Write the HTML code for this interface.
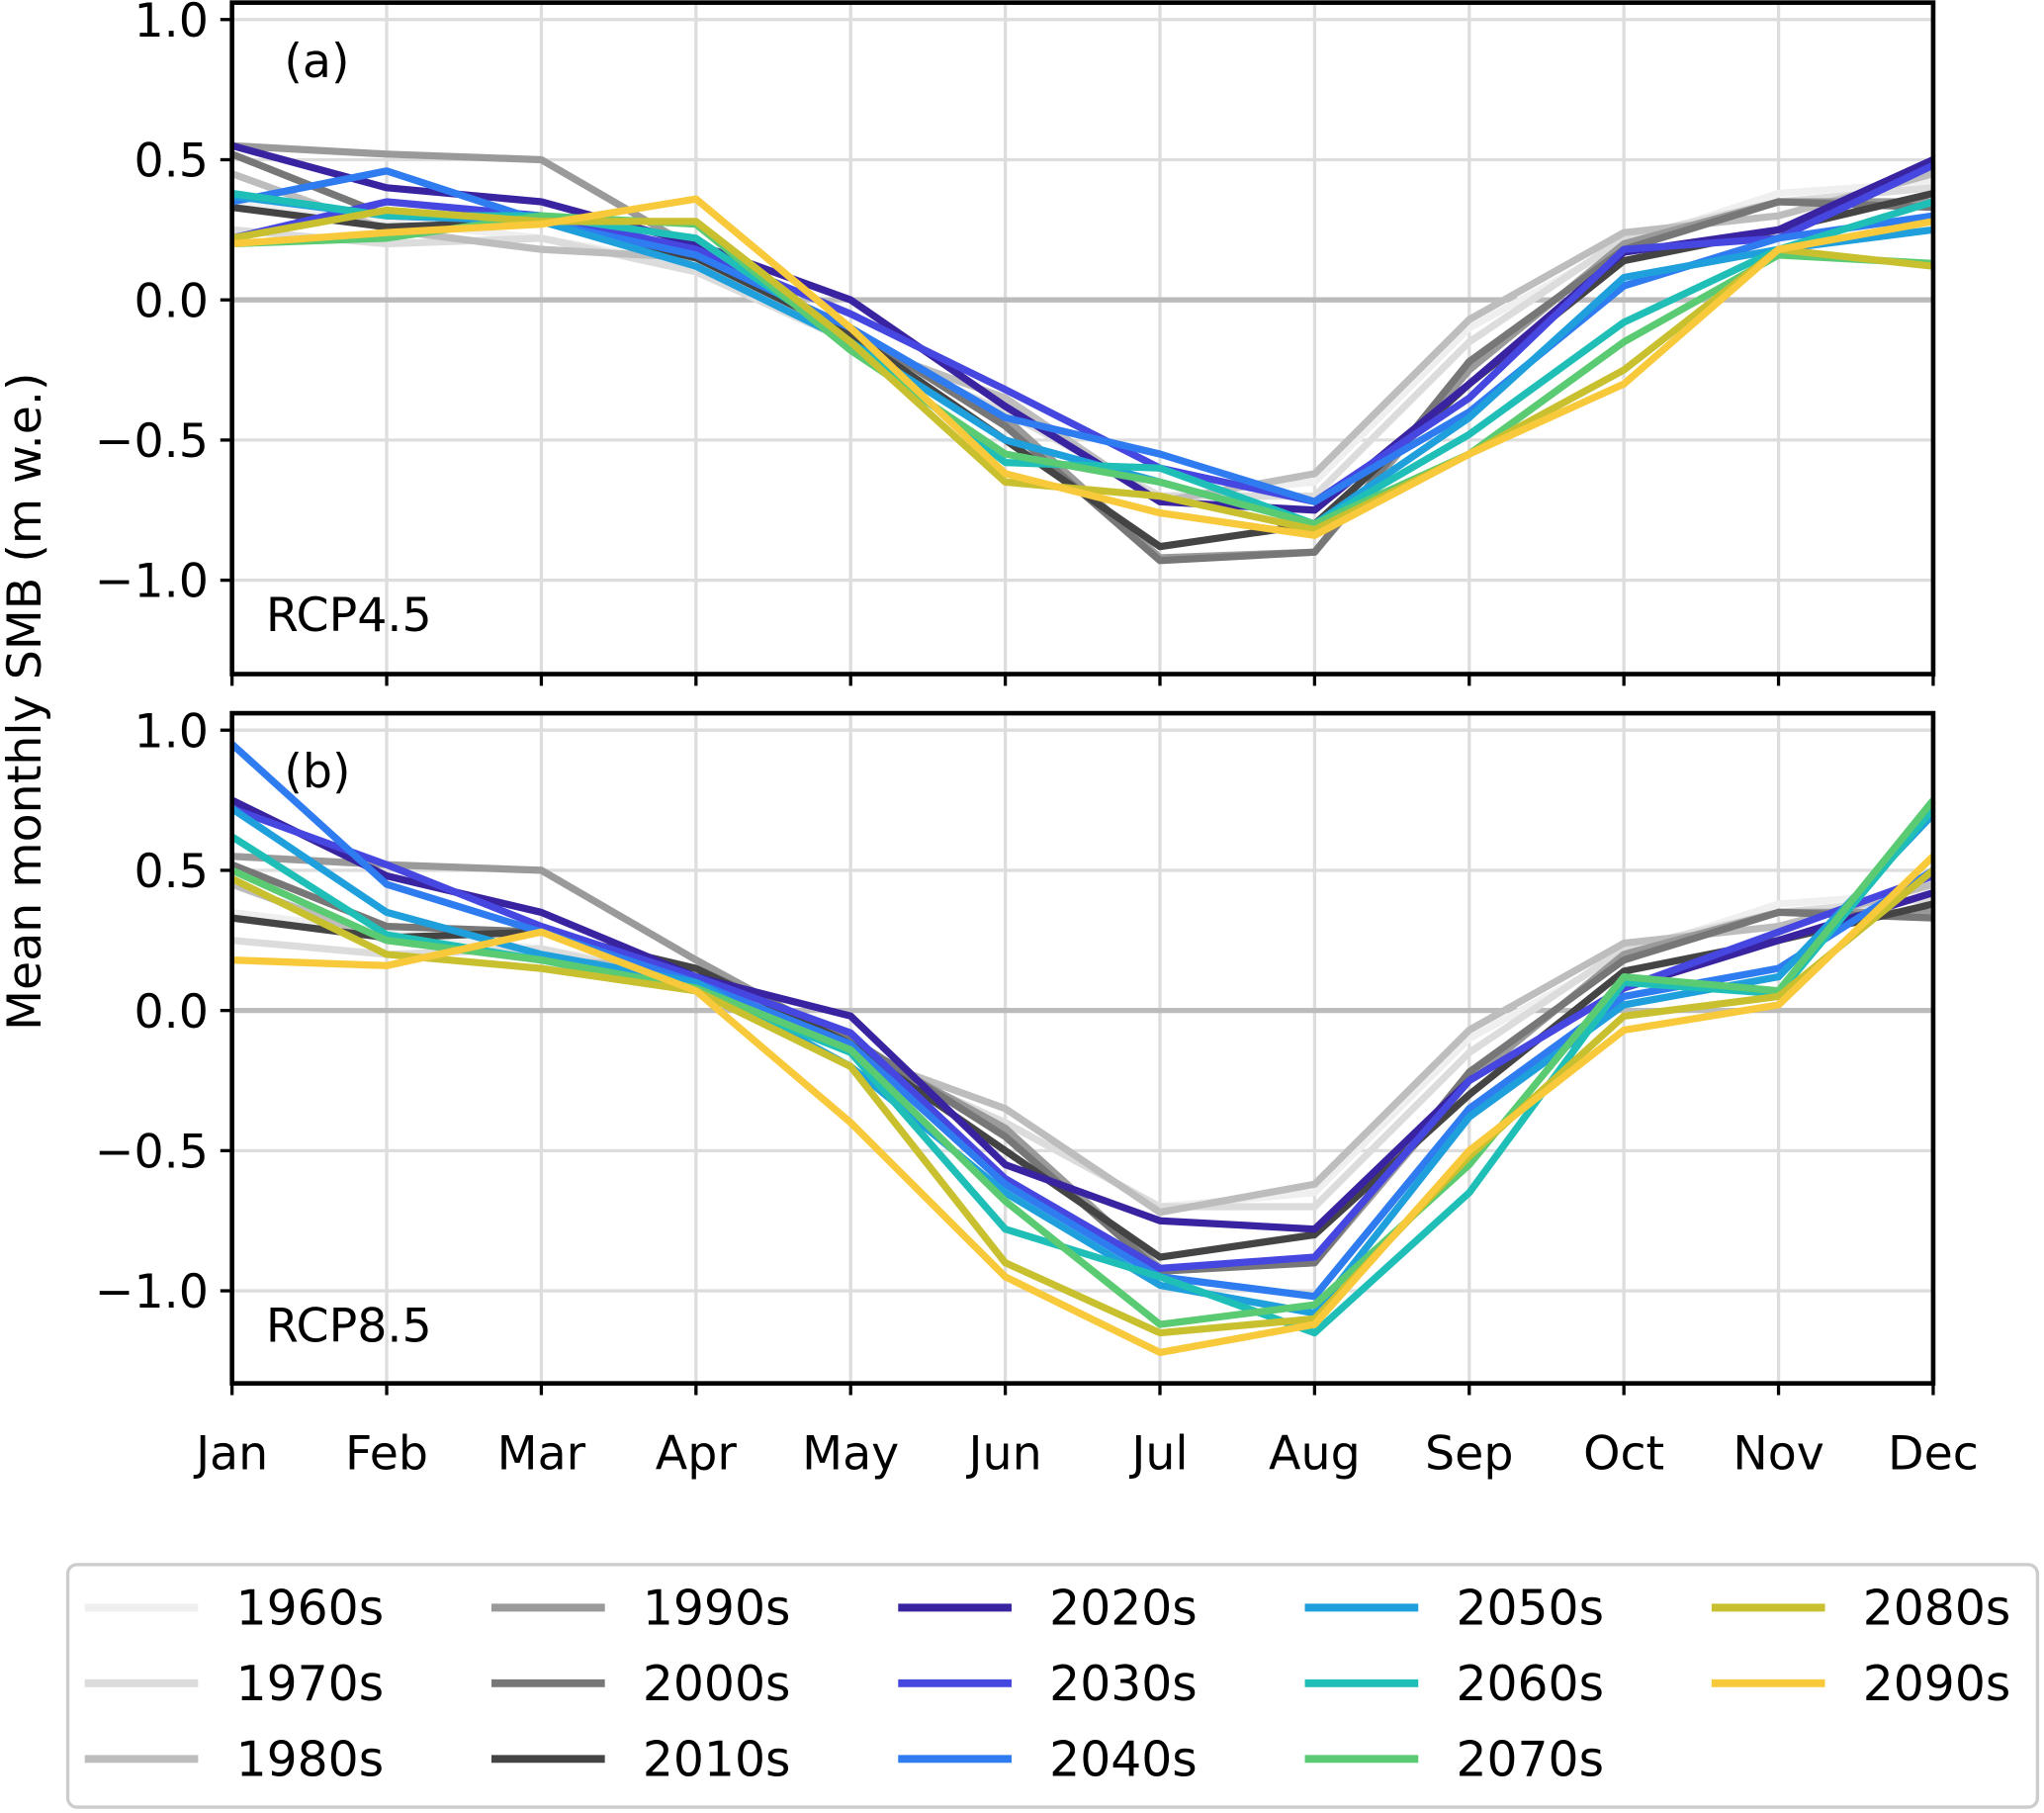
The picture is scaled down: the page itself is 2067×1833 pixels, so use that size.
<!DOCTYPE html>
<html><head><meta charset="utf-8"><style>
html,body{margin:0;padding:0;background:#fff;}
svg{display:block;font-family:"DejaVu Sans","Liberation Sans",sans-serif;}
</style></head><body>
<svg id="chart" width="2067" height="1833" viewBox="0 0 1568 1390.5" xmlns="http://www.w3.org/2000/svg"></svg>
<script>
const months = ["Jan","Feb","Mar","Apr","May","Jun","Jul","Aug","Sep","Oct","Nov","Dec"];
const decades = ["1960s","1970s","1980s","1990s","2000s","2010s","2020s","2030s","2040s","2050s","2060s","2070s","2080s","2090s"];
const yTicks = [1.0,0.5,0.0,-0.5,-1.0];
const yTickLabels = ["1.0","0.5","0.0","\u22120.5","\u22121.0"];
const colors = ["#efefef","#dcdcdc","#bdbdbd","#9a9a9a","#777777","#444444","#3a23a0","#4646e0","#2f7bf0","#1fa0dc","#1fbfb8","#5acb72","#c9c030","#f8c93a"];
const h1960 = [0.35,0.28,0.22,0.12,-0.15,-0.4,-0.7,-0.65,-0.1,0.2,0.38,0.42];
const h1970 = [0.25,0.2,0.22,0.1,-0.15,-0.4,-0.7,-0.7,-0.15,0.22,0.35,0.4];
const h1980 = [0.45,0.25,0.18,0.15,-0.15,-0.35,-0.72,-0.62,-0.07,0.24,0.3,0.45];
const h1990 = [0.55,0.52,0.5,0.18,-0.12,-0.42,-0.92,-0.9,-0.25,0.2,0.35,0.35];
const h2000 = [0.52,0.3,0.28,0.15,-0.1,-0.45,-0.93,-0.9,-0.22,0.18,0.35,0.33];
const h2010 = [0.33,0.26,0.28,0.15,-0.12,-0.5,-0.88,-0.8,-0.3,0.14,0.25,0.38];
const a2020 = [0.55,0.4,0.35,0.2,0.0,-0.38,-0.72,-0.75,-0.3,0.17,0.25,0.5];
const a2030 = [0.22,0.35,0.3,0.18,-0.05,-0.32,-0.6,-0.72,-0.35,0.18,0.22,0.48];
const a2040 = [0.35,0.46,0.28,0.16,-0.1,-0.42,-0.55,-0.72,-0.4,0.05,0.22,0.3];
const a2050 = [0.37,0.3,0.28,0.12,-0.15,-0.5,-0.65,-0.8,-0.42,0.08,0.18,0.25];
const a2060 = [0.38,0.3,0.3,0.22,-0.15,-0.58,-0.6,-0.8,-0.48,-0.08,0.18,0.35];
const a2070 = [0.2,0.22,0.3,0.27,-0.18,-0.55,-0.65,-0.8,-0.55,-0.15,0.16,0.13];
const a2080 = [0.22,0.32,0.28,0.28,-0.15,-0.65,-0.7,-0.82,-0.55,-0.25,0.18,0.12];
const a2090 = [0.2,0.24,0.27,0.36,-0.1,-0.62,-0.76,-0.84,-0.55,-0.3,0.18,0.28];
const b2020 = [0.75,0.48,0.35,0.12,-0.02,-0.55,-0.75,-0.78,-0.25,0.08,0.25,0.42];
const b2030 = [0.72,0.52,0.3,0.12,-0.08,-0.6,-0.92,-0.88,-0.25,0.08,0.28,0.48];
const b2040 = [0.95,0.45,0.28,0.1,-0.12,-0.62,-0.95,-1.02,-0.35,0.05,0.15,0.5];
const b2050 = [0.72,0.35,0.2,0.1,-0.2,-0.65,-0.98,-1.08,-0.38,0.02,0.12,0.7];
const b2060 = [0.62,0.27,0.18,0.07,-0.15,-0.78,-0.95,-1.15,-0.65,0.1,0.06,0.72];
const b2070 = [0.5,0.25,0.18,0.08,-0.14,-0.68,-1.12,-1.05,-0.55,0.12,0.07,0.75];
const b2080 = [0.47,0.2,0.15,0.07,-0.2,-0.9,-1.15,-1.1,-0.52,-0.02,0.05,0.5];
const b2090 = [0.18,0.16,0.28,0.07,-0.4,-0.95,-1.22,-1.12,-0.5,-0.07,0.02,0.55];
const seriesA = [h1960,h1970,h1980,h1990,h2000,h2010,a2020,a2030,a2040,a2050,a2060,a2070,a2080,a2090];
const seriesB = [h1960,h1970,h1980,h1990,h2000,h2010,b2020,b2030,b2040,b2050,b2060,b2070,b2080,b2090];

const NS="http://www.w3.org/2000/svg";
const svg=document.getElementById('chart');
function mk(tag,attrs,parent){const e=document.createElementNS(NS,tag);for(const k in attrs)e.setAttribute(k,attrs[k]);(parent||svg).appendChild(e);return e;}
const X0=178,X1=1483;
const xs=i=>X0+i*(X1-X0)/11;

function panel(top,bottom,zeroY,label,tag,series,name){
  const g=mk('g',{});
  
  
  const ys=v=>zeroY-v*215;
  months.forEach((m,i)=>{const l=mk('line',{x1:xs(i),x2:xs(i),y1:top,y2:bottom,stroke:'#dddddd','stroke-width':2.5},g);
    });
  yTicks.forEach((t,i)=>{
    const l=mk('line',{x1:X0,x2:X1,y1:ys(t),y2:ys(t),stroke:t===0?'#bbbbbb':'#dddddd','stroke-width':t===0?4:2.5},g);
    
    mk('line',{x1:X0-9,x2:X0,y1:ys(t),y2:ys(t),stroke:'#000','stroke-width':2.5},g);
    const tx=mk('text',{x:X0-18,y:ys(t)+13,'text-anchor':'end','font-size':36},g);tx.textContent=yTickLabels[i];
    
  });
  series.forEach((s,k)=>{
    const p=mk('polyline',{points:s.map((v,i)=>xs(i)+','+ys(v)).join(' '),fill:'none',stroke:colors[k],'stroke-width':5.5,'stroke-linejoin':'round'},g);
    
    
  });
  mk('rect',{x:X0,y:top,width:X1-X0,height:bottom-top,fill:'none',stroke:'#000','stroke-width':3.5},g);
  months.forEach((m,i)=>mk('line',{x1:xs(i),x2:xs(i),y1:bottom,y2:bottom+9,stroke:'#000','stroke-width':2.5},g));
  const t1=mk('text',{x:218,y:59+(top-2),'font-size':36},g);t1.textContent=tag;
  
  const t2=mk('text',{x:204,y:ys(-1)+39,'font-size':36},g);t2.textContent=label;
  
}
panel(2,517,230,'RCP4.5','(a)',seriesA,'panel-rcp45');
panel(547,1061,775,'RCP8.5','(b)',seriesB,'panel-rcp85');

months.forEach((m,i)=>{const t=mk('text',{x:xs(i),y:1127,'text-anchor':'middle','font-size':36});t.textContent=m;
  });
const yl=mk('text',{x:0,y:0,transform:'translate(31,538) rotate(-90)','text-anchor':'middle','font-size':36});
yl.textContent='Mean monthly SMB (m w.e.)';


const lg=mk('g',{});

mk('rect',{x:52,y:1200,width:1511,height:186,rx:7,fill:'#fff',stroke:'#cccccc','stroke-width':2.5},lg);
decades.forEach((d,k)=>{
  const col=Math.floor(k/3),row=k%3;
  const lx=65+col*312,y=1233+row*58;
  const e=mk('g',{},lg);
  
  mk('line',{x1:lx,x2:lx+87,y1:y,y2:y,stroke:colors[k],'stroke-width':6},e);
  const t=mk('text',{x:lx+116,y:y+13,'font-size':37},e);t.textContent=d;
});
</script>
</body></html>
